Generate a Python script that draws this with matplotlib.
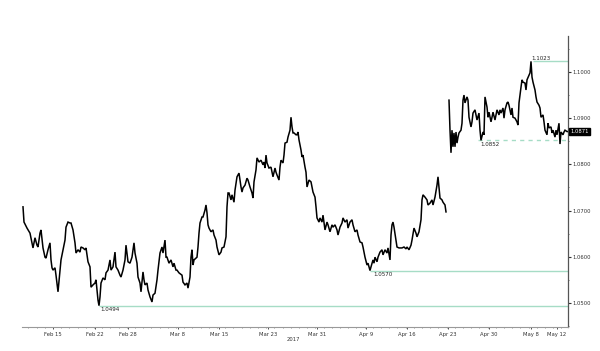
import matplotlib
matplotlib.use("Agg")
import matplotlib.pyplot as plt
import numpy as np

# ---- data: EUR/USD, x = bar index (time), y = price ----
bars_a = [1,2,5,8,11,13,15,16,18,19,21,23,24,26,28,29,30,31,33,34,36,38,39,41,43,44,46,48,49,51,53,54,56,58,59,61,63,64,66,68,69,71,73,74,75,76,77,78,79,81,83,84,86,88,89,91,93,94,96,98,99,101,103,104,106]
price_a = [1.0708,1.0675,1.0662,1.0651,1.0619,1.0641,1.0625,1.0621,1.0651,1.0658,1.0619,1.0599,1.0597,1.0615,1.0630,1.0593,1.0576,1.0571,1.0576,1.0560,1.0524,1.0571,1.0593,1.0615,1.0636,1.0664,1.0675,1.0673,1.0673,1.0658,1.0630,1.0608,1.0615,1.0610,1.0621,1.0619,1.0615,1.0619,1.0589,1.0578,1.0534,1.0539,1.0543,1.0550,1.0528,1.0506,1.0494,1.0513,1.0543,1.0554,1.0550,1.0565,1.0571,1.0593,1.0571,1.0578,1.0610,1.0578,1.0571,1.0560,1.0556,1.0571,1.0593,1.0625,1.0589]

bars_b = [108,110,112,113,115,116,118,119,121,122,123,125,126,128,130,131,133,135,136,138,140,141,143,144,145,147,149,151,152,154,155,157,160,161,163,165,166,168,169,170,171,172,174,175,176,177,178,180,181,183,184,185,186,187,189,191,192,194,195,197,199,200,202,204,205,206,207,209,210,212,213,215,216,217]
price_b = [1.0586,1.0599,1.0630,1.0608,1.0586,1.0556,1.0543,1.0524,1.0567,1.0550,1.0539,1.0543,1.0528,1.0513,1.0502,1.0517,1.0521,1.0550,1.0571,1.0608,1.0621,1.0608,1.0636,1.0599,1.0599,1.0586,1.0593,1.0578,1.0586,1.0571,1.0571,1.0565,1.0560,1.0545,1.0539,1.0543,1.0532,1.0556,1.0599,1.0615,1.0582,1.0593,1.0597,1.0599,1.0621,1.0651,1.0673,1.0686,1.0686,1.0701,1.0712,1.0695,1.0669,1.0662,1.0654,1.0658,1.0647,1.0636,1.0621,1.0604,1.0610,1.0619,1.0621,1.0643,1.0708,1.0738,1.0738,1.0723,1.0734,1.0718,1.0744,1.0773,1.0777,1.0781]

bars_c = [219,220,221,223,225,226,228,230,231,232,234,235,237,239,241,242,243,244,245,247,249,250,251,253,254,255,257,258,259,261,262,263,265,266,268,269,270,271,272,274,275,276,277,279,280,281,283,284,285,287,289,290,291,293,294,295,297,298,300,301,303,305,306,308,310,311,313,315,316,318,320,321,323,325,326]
price_c = [1.0751,1.0740,1.0749,1.0755,1.0770,1.0766,1.0751,1.0738,1.0727,1.0762,1.0788,1.0814,1.0805,1.0809,1.0799,1.0805,1.0792,1.0820,1.0803,1.0792,1.0794,1.0783,1.0773,1.0792,1.0783,1.0777,1.0766,1.0794,1.0809,1.0803,1.0820,1.0846,1.0848,1.0859,1.0874,1.0902,1.0881,1.0868,1.0868,1.0864,1.0864,1.0870,1.0853,1.0831,1.0816,1.0820,1.0794,1.0783,1.0751,1.0766,1.0762,1.0751,1.0740,1.0729,1.0708,1.0684,1.0675,1.0684,1.0675,1.0690,1.0658,1.0675,1.0669,1.0654,1.0669,1.0664,1.0669,1.0658,1.0647,1.0664,1.0673,1.0684,1.0675,1.0680,1.0662]

bars_d = [328,330,331,333,335,336,338,340,341,343,345,346,348,349,351,352,353,355,356,358,360,361,363,365,366,368,369,370,371,372,374,375,377,379,380,382,384,385,387,389,390,392,394,395,397,399,400,401,403,405,406,408,410,411,413,415,416,417,418,420,421,423,424]
price_d = [1.0675,1.0680,1.0669,1.0654,1.0658,1.0647,1.0632,1.0630,1.0621,1.0599,1.0582,1.0586,1.0570,1.0578,1.0593,1.0586,1.0599,1.0589,1.0599,1.0610,1.0615,1.0604,1.0615,1.0608,1.0619,1.0593,1.0647,1.0669,1.0675,1.0664,1.0636,1.0621,1.0619,1.0619,1.0619,1.0621,1.0617,1.0621,1.0615,1.0625,1.0636,1.0662,1.0651,1.0643,1.0654,1.0680,1.0723,1.0734,1.0729,1.0723,1.0712,1.0716,1.0723,1.0712,1.0729,1.0755,1.0773,1.0751,1.0727,1.0723,1.0718,1.0712,1.0697]

# after the weekend gap
bars_e = [427,428,429,430,431,432,433,434,435,436,437,439,440,441,442,443,445,446,447,449,450,451,453,454,455,457,458,459,461,462,463,465,466,467,469,470,471,473,474,475,477,478,479,481,482,483,485,486,487,489,490,491,493,495,496,497,499,500,501,503,504,505,507,508,509,510,511,513,514,515,517,518,519,521,522,523,525,526,527,529,530,531,533,534,535,537,538,539,541,542,543,545,546]
price_e = [1.0939,1.0874,1.0825,1.0874,1.0838,1.0868,1.0838,1.0870,1.0846,1.0859,1.0868,1.0874,1.0889,1.0939,1.0950,1.0933,1.0946,1.0939,1.0902,1.0881,1.0892,1.0911,1.0918,1.0907,1.0896,1.0911,1.0874,1.0852,1.0870,1.0864,1.0946,1.0924,1.0902,1.0913,1.0892,1.0902,1.0913,1.0896,1.0907,1.0918,1.0907,1.0918,1.0911,1.0922,1.0900,1.0918,1.0933,1.0935,1.0928,1.0907,1.0922,1.0902,1.0900,1.0892,1.0885,1.0933,1.0967,1.0983,1.0978,1.0976,1.0961,1.0983,1.0993,1.0998,1.1023,1.0989,1.0978,1.0961,1.0946,1.0935,1.0928,1.0922,1.0902,1.0907,1.0892,1.0874,1.0864,1.0889,1.0879,1.0881,1.0868,1.0874,1.0859,1.0874,1.0864,1.0889,1.0844,1.0870,1.0864,1.0870,1.0874,1.0871,1.0871]

# horizontal levels: value, bar where the line starts, dashed?
level_values = [1.1023, 1.0852, 1.0570, 1.0494]
level_start = [511, 456, 348, 77]
level_dashed = [False, True, False, False]

tick_labels = ["Feb 15", "Feb 22", "Feb 28", "Mar 8", "Mar 15", "Mar 23",
               "Mar 31", "Apr 9", "Apr 16", "Apr 23", "Apr 30", "May 8", "May 12"]
tick_bars = [31, 73, 106, 156, 197, 246, 295, 344, 385, 426, 467, 509, 535]
y_ticks = [1.05, 1.06, 1.07, 1.08, 1.09, 1.10]
last_price = 1.0871
year_label = "2017"
year_bar = 271

# ---- drawing ----
W, H = 600, 351
fig = plt.figure(figsize=(W / 100, H / 100), dpi=100)
ax = fig.add_axes([22 / W, 24 / H, 546 / W, 291 / H])

xmax = 546
ax.set_xlim(0, xmax)
ax.set_ylim(1.04478, 1.10779)

x_pre = bars_a + bars_b + bars_c + bars_d
y_pre = price_a + price_b + price_c + price_d
assert len(x_pre) == len(y_pre) and len(bars_e) == len(price_e)

lvl_color = "#a6dcc6"
for v, s, d in zip(level_values, level_start, level_dashed):
    ax.hlines(v, s, xmax, colors=lvl_color, linewidth=1.0,
              linestyles=(0, (3, 3)) if d else "solid", zorder=1)

ax.plot(x_pre, y_pre, color="black", linewidth=1.1, zorder=3,
        solid_joinstyle="miter")
ax.plot(bars_e, price_e, color="black", linewidth=1.1, zorder=3,
        solid_joinstyle="miter")

# level labels
lab_kw = dict(fontsize=4.0, color="#222222", zorder=4)
ax.annotate("1.1023", (level_start[0] - 2, level_values[0]), xytext=(0, 0.6),
            textcoords="offset points", ha="left", va="bottom", **lab_kw)
ax.annotate("1.0852", (level_start[1] + 2, level_values[1]), xytext=(0, -1.2),
            textcoords="offset points", ha="left", va="top", **lab_kw)
ax.annotate("1.0570", (level_start[2] + 3, level_values[2]), xytext=(0, -1.2),
            textcoords="offset points", ha="left", va="top", **lab_kw)
ax.annotate("1.0494", (level_start[3] + 1, level_values[3]), xytext=(0, -1.2),
            textcoords="offset points", ha="left", va="top", **lab_kw)

# spines
for s in ("left", "top"):
    ax.spines[s].set_visible(False)
ax.spines["right"].set_color("#555555")
ax.spines["right"].set_linewidth(0.9)
ax.spines["bottom"].set_color("#999999")
ax.spines["bottom"].set_linewidth(0.8)

# y axis on right
ax.yaxis.tick_right()
ax.set_yticks(y_ticks)
ax.set_yticklabels([f"{v:.4f}" for v in y_ticks])
ax.set_yticks([v + 0.005 for v in y_ticks[:-1]] + [1.045, 1.105], minor=True)
ax.tick_params(axis="y", which="major", direction="out", length=1.8, width=0.8,
               pad=1.2, labelsize=3.8, colors="#333333")
ax.tick_params(axis="y", which="minor", direction="out", length=1.0, width=0.6,
               colors="#555555")

# x axis
ax.set_xticks(tick_bars)
ax.set_xticklabels(tick_labels)
ax.set_xticks(np.arange(tick_bars[0] - 8.2 * 3, xmax, 8.2), minor=True)
ax.tick_params(axis="x", which="major", direction="out", length=1.6, width=0.6,
               pad=1.8, labelsize=3.8, colors="#333333")
ax.tick_params(axis="x", which="minor", direction="out", length=1.0, width=0.5,
               colors="#666666")

ax.annotate(year_label, (year_bar, 0), xycoords=("data", "axes fraction"),
            xytext=(0, -7.2), textcoords="offset points", ha="center",
            va="top", fontsize=3.8, color="#333333")

# current price box
ax.annotate(f"{last_price:.4f}", (xmax, last_price), xytext=(1.6, 0),
            textcoords="offset points", ha="left", va="center",
            fontsize=3.8, color="white", annotation_clip=False,
            bbox=dict(boxstyle="square,pad=0.25", fc="black", ec="black"))

fig.savefig("out.png", dpi=100)
